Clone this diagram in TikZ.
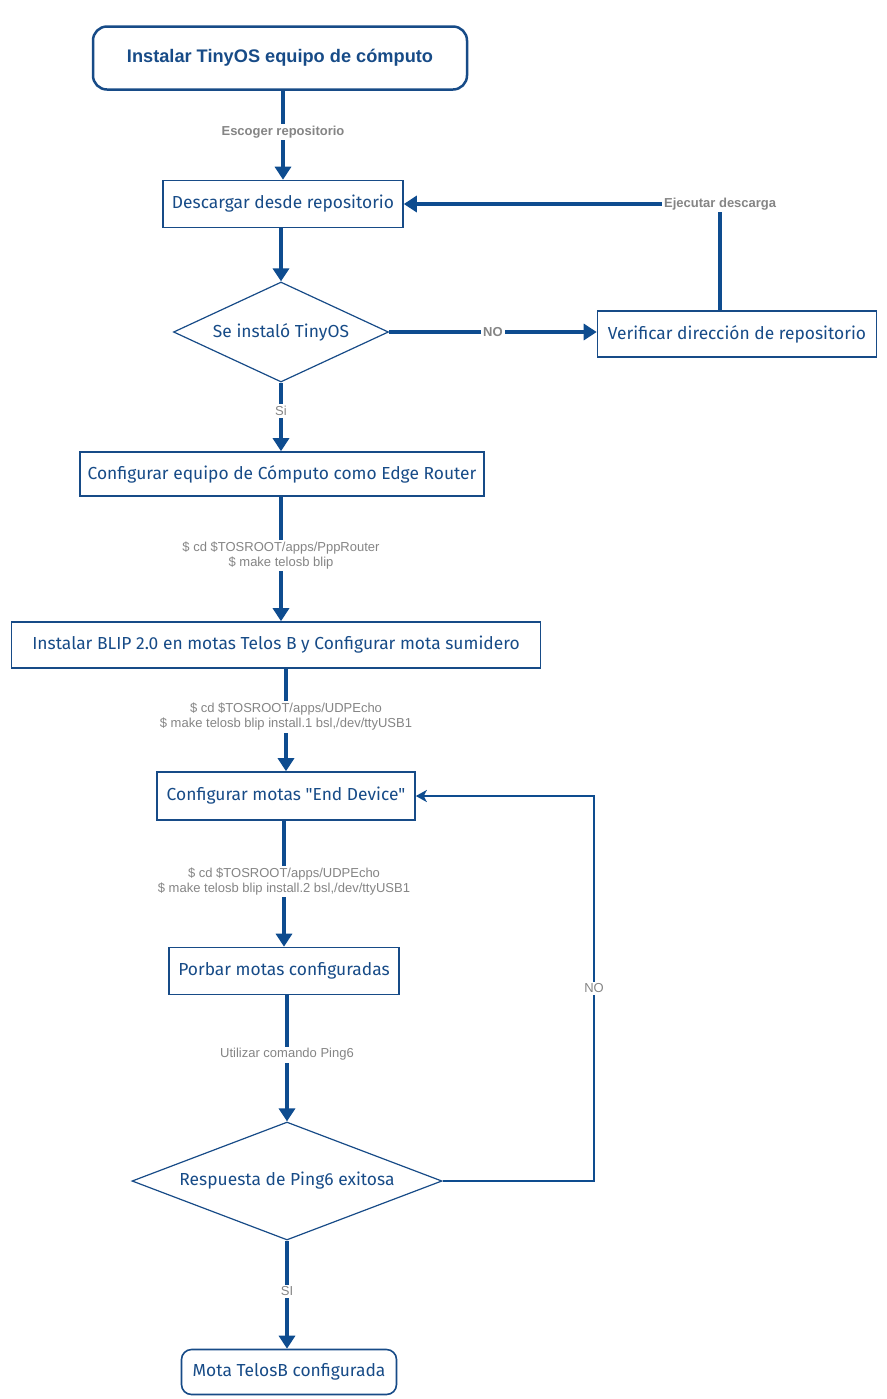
\documentclass[tikz,border=0pt]{standalone}
\usepackage{fontspec}
\setmainfont{Liberation Sans}
\newfontfamily\manofont{Fira Sans}
\usetikzlibrary{shapes.geometric}
\usetikzlibrary{arrows.meta}
\usetikzlibrary{calc}
\definecolor{azul}{HTML}{174B87}
\definecolor{flecha}{HTML}{0E4C8F}
\definecolor{gris}{HTML}{858585}
\tikzset{
  inicio/.style={draw=azul,line width=1.25pt,rounded corners=7pt,text=azul,
    font=\bfseries\fontsize{9.1}{11}\selectfont},
  final/.style={draw=azul,line width=0.8pt,rounded corners=5pt,text=azul,
    font=\manofont\fontsize{8.7}{11}\selectfont},
  paso/.style={draw=azul,line width=0.8pt,text=azul,inner xsep=1pt,
    font=\manofont\fontsize{8.7}{11}\selectfont},
  decision/.style={diamond,draw=azul,line width=0.6pt,text=azul,inner sep=0pt,
    font=\manofont\fontsize{8.7}{11}\selectfont},
  flujo/.style={draw=flecha,line width=2pt,-{Triangle[width=8pt,length=6.5pt]}},
  retorno/.style={draw=flecha,line width=1pt,-{Stealth[width=6pt,length=5.5pt,inset=1.5pt]}},
  etiqueta/.style={fill=white,text=gris,inner sep=1pt,align=center,
    font=\fontsize{6.5}{7.5}\selectfont},
  etiquetab/.style={etiqueta,font=\bfseries\fontsize{6.5}{7.5}\selectfont}
}

\begin{document}
\begin{tikzpicture}[x=0.5pt,y=-0.5pt]
  \useasboundingbox (0,0) rectangle (887,1399);
  % pasos del proceso
  \node[inicio,minimum width=187pt,minimum height=31.5pt] (instalar) at (280,58) {Instalar TinyOS equipo de cómputo};
  \node[paso,minimum width=120pt,minimum height=23.5pt] (descargar) at (283,204) {Descargar desde repositorio};
  \node[decision,aspect=2.15,minimum width=107.5pt,minimum height=50pt] (seinstalo) at (281,332) {Se instaló TinyOS};
  \node[paso,minimum width=139.5pt,minimum height=23pt] (verificar) at (737,334) {Verificar dirección de repositorio};
  \node[paso,minimum width=202pt,minimum height=22pt] (router) at (282,474) {Configurar equipo de Cómputo como Edge Router};
  \node[paso,minimum width=264.5pt,minimum height=23pt] (blip) at (276,645) {Instalar BLIP 2.0 en motas Telos B y Configurar mota sumidero};
  \node[paso,minimum width=129pt,minimum height=24pt] (enddevice) at (286,796) {Configurar motas "End Device"};
  \node[paso,minimum width=115pt,minimum height=23.5pt] (probar) at (284,971) {Porbar motas configuradas};
  \node[decision,aspect=2.63,minimum width=155pt,minimum height=59pt] (ping) at (287,1181) {Respuesta de Ping6 exitosa};
  \node[final,minimum width=107.5pt,minimum height=22.5pt] (telosb) at (289,1372) {Mota TelosB configurada};
  \coordinate (vuelta) at (594,0);

  % conectores
  \draw[flujo] (instalar.south -| descargar) -- node[etiquetab,pos=0.46] {Escoger repositorio} (descargar.north);
  \draw[flujo] (descargar.south -| seinstalo.north) -- (seinstalo.north);
  \draw[flujo] (seinstalo.east) -- node[etiquetab] {NO} (seinstalo.east -| verificar.west);
  \draw[flujo] ($(verificar.north west)!0.44!(verificar.north east)$) |- node[etiquetab] {Ejecutar descarga} (descargar.east);
  \draw[flujo] (seinstalo.south) -- node[etiqueta,pos=0.41] {Si} (seinstalo.south |- router.north);
  \draw[flujo] (router.south -| seinstalo.south) -- node[etiqueta,pos=0.47] {\$ cd \$TOSROOT/apps/PppRouter\\\$ make telosb blip} (seinstalo.south |- blip.north);
  \draw[flujo] (blip.south -| enddevice.south) -- node[etiqueta,pos=0.47] {\$ cd \$TOSROOT/apps/UDPEcho\\\$ make telosb blip install.1 bsl,/dev/ttyUSB1} (enddevice.north);
  \draw[flujo] (enddevice.south -| probar.south) -- node[etiqueta,pos=0.48] {\$ cd \$TOSROOT/apps/UDPEcho\\\$ make telosb blip install.2 bsl,/dev/ttyUSB1} (probar.north);
  \draw[flujo] (probar.south -| ping.north) -- node[etiqueta,pos=0.47] {Utilizar comando Ping6} (ping.north);
  \draw[flujo] (ping.south) -- node[etiqueta,pos=0.47] {SI} (ping.south |- telosb.north);
  \draw[retorno] (ping.east) -| node[etiqueta,pos=0.75] {NO} (vuelta |- enddevice.east) -- (enddevice.east);
\end{tikzpicture}
\end{document}
